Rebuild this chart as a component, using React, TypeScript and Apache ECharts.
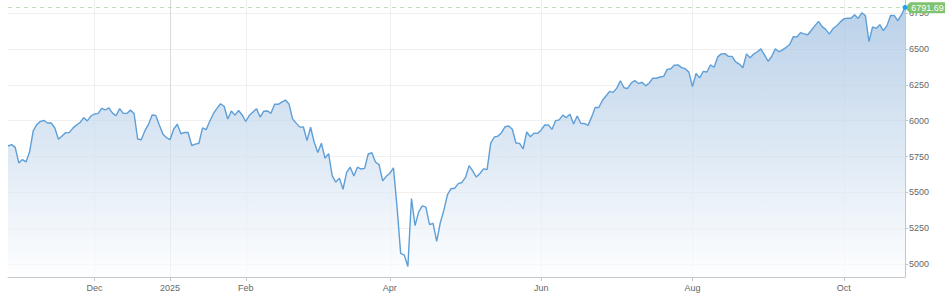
import { useEffect, useRef } from "react";
import * as echarts from "echarts";

// Trading days per month (category axis, one point per session)
const monthDays: [string, number[]][] = [
  ["2024-10", [28, 29, 30, 31]],
  ["2024-11", [1, 4, 5, 6, 7, 8, 11, 12, 13, 14, 15, 18, 19, 20, 21, 22, 25, 26, 27, 29]],
  ["2024-12", [2, 3, 4, 5, 6, 9, 10, 11, 12, 13, 16, 17, 18, 19, 20, 23, 24, 26, 27, 30, 31]],
  ["2025-01", [2, 3, 6, 7, 8, 9, 10, 13, 14, 15, 16, 17, 21, 22, 23, 24, 27, 28, 29, 30, 31]],
  ["2025-02", [3, 4, 5, 6, 7, 10, 11, 12, 13, 14, 18, 19, 20, 21, 24, 25, 26, 27, 28]],
  ["2025-03", [3, 4, 5, 6, 7, 10, 11, 12, 13, 14, 17, 18, 19, 20, 21, 24, 25, 26, 27, 28, 31]],
  ["2025-04", [1, 2, 3, 4, 7, 8, 9, 10, 11, 14, 15, 16, 17, 21, 22, 23, 24, 25, 28, 29, 30]],
  ["2025-05", [1, 2, 5, 6, 7, 8, 9, 12, 13, 14, 15, 16, 19, 20, 21, 22, 23, 27, 28, 29, 30]],
  ["2025-06", [2, 3, 4, 5, 6, 9, 10, 11, 12, 13, 16, 17, 18, 20, 23, 24, 25, 26, 27, 30]],
  ["2025-07", [1, 2, 3, 7, 8, 9, 10, 11, 14, 15, 16, 17, 18, 21, 22, 23, 24, 25, 28, 29, 30, 31]],
  ["2025-08", [1, 4, 5, 6, 7, 8, 11, 12, 13, 14, 15, 18, 19, 20, 21, 22, 25, 26, 27, 28, 29]],
  ["2025-09", [2, 3, 4, 5, 8, 9, 10, 11, 12, 15, 16, 17, 18, 19, 22, 23, 24, 25, 26, 29, 30]],
  ["2025-10", [1, 2, 3, 6, 7, 8, 9, 10, 13, 14, 15, 16, 17, 20, 21, 22, 23, 24]],
];

const tradingDates: string[] = monthDays.flatMap(([m, ds]) =>
  ds.map((d) => `${m}-${String(d).padStart(2, "0")}`)
);

const closes: number[] = [
  // Oct 2024
  5823.52, 5832.92, 5813.67, 5705.45,
  // Nov
  5728.8, 5712.69, 5782.76, 5929.04, 5973.1, 5995.54, 6001.35, 5983.99, 5985.38, 5949.17,
  5870.62, 5893.62, 5916.98, 5917.11, 5948.71, 5969.34, 5987.37, 6021.63, 5998.74, 6032.38,
  // Dec
  6047.15, 6049.88, 6086.49, 6075.11, 6090.27, 6052.85, 6034.91, 6084.19, 6051.25, 6051.09,
  6074.08, 6050.61, 5872.16, 5867.08, 5930.85, 5974.07, 6040.04, 6037.59, 5970.84, 5906.94, 5881.63,
  // Jan 2025
  5868.55, 5942.47, 5975.38, 5909.03, 5918.25, 5918.25, 5827.04, 5836.22, 5842.91, 5949.91,
  5937.34, 5996.66, 6049.24, 6086.37, 6118.71, 6101.24, 6012.28, 6067.7, 6039.31, 6071.17, 6040.53,
  // Feb
  5994.57, 6037.88, 6061.48, 6083.57, 6025.99, 6066.44, 6068.5, 6051.97, 6115.07, 6114.63,
  6129.58, 6144.15, 6117.52, 6013.13, 5983.25, 5955.25, 5956.06, 5861.57, 5954.5,
  // Mar
  5849.72, 5778.15, 5842.63, 5738.52, 5770.2, 5614.56, 5572.07, 5599.3, 5521.52, 5638.94,
  5675.12, 5614.66, 5675.29, 5662.89, 5667.56, 5767.57, 5776.65, 5712.2, 5693.31, 5580.94, 5611.85,
  // Apr
  5633.07, 5670.97, 5396.52, 5074.08, 5062.25, 4982.77, 5456.9, 5268.05, 5363.36, 5405.97,
  5396.63, 5275.7, 5282.7, 5158.2, 5287.76, 5375.86, 5484.77, 5525.21, 5528.75, 5560.83, 5569.06,
  // May
  5604.14, 5686.67, 5650.38, 5606.91, 5631.28, 5663.94, 5659.91, 5844.19, 5886.55, 5892.58,
  5916.93, 5958.38, 5963.6, 5940.46, 5844.61, 5842.01, 5802.82, 5921.54, 5888.55, 5912.17, 5911.69,
  // Jun
  5935.94, 5970.37, 5970.81, 5939.3, 6000.36, 6005.88, 6038.81, 6022.24, 6045.26, 5976.97,
  6033.11, 5982.72, 5980.87, 5967.84, 6025.17, 6092.18, 6092.16, 6141.02, 6173.07, 6204.95,
  // Jul
  6198.01, 6227.42, 6279.35, 6229.98, 6225.52, 6263.26, 6280.46, 6259.75, 6268.56, 6243.76,
  6263.7, 6297.36, 6296.79, 6305.6, 6309.62, 6358.91, 6363.35, 6388.64, 6389.77, 6370.86, 6362.9, 6339.39,
  // Aug
  6238.01, 6329.94, 6299.19, 6345.06, 6340.0, 6389.45, 6373.45, 6445.76, 6466.58, 6468.54,
  6449.8, 6449.15, 6411.37, 6395.78, 6370.17, 6466.91, 6439.32, 6465.94, 6481.4, 6501.86, 6460.26,
  // Sep
  6415.54, 6448.26, 6502.08, 6481.5, 6495.15, 6512.61, 6532.04, 6587.47, 6584.29, 6615.28,
  6606.76, 6600.35, 6631.96, 6664.36, 6693.75, 6656.92, 6637.97, 6604.72, 6643.7, 6661.21, 6688.46,
  // Oct
  6711.2, 6715.35, 6715.79, 6740.28, 6714.59, 6753.72, 6735.11, 6552.51, 6654.72, 6644.31,
  6671.06, 6629.07, 6664.01, 6735.13, 6735.35, 6699.4, 6738.44, 6791.69,
];

const xTickMonths = ["2024-12", "2025-01", "2025-02", "2025-04", "2025-06", "2025-08", "2025-10"];
const xTickLabels = ["Dec", "2025", "Feb", "Apr", "Jun", "Aug", "Oct"];
const yTicks = [5000, 5250, 5500, 5750, 6000, 6250, 6500, 6750];
const yMin = 4909;
const yMax = 6843;

const FONT = "'Liberation Sans', Arial, Helvetica, sans-serif";

function isMonthTick(i: number): boolean {
  if (i <= 0) return false;
  const m = tradingDates[i].slice(0, 7);
  return m !== tradingDates[i - 1].slice(0, 7) && xTickMonths.includes(m);
}

export default function App() {
  const ref = useRef<HTMLDivElement>(null);

  useEffect(() => {
    if (!ref.current) return;
    const chart = echarts.init(ref.current, undefined, { renderer: "svg" });
    const lastIdx = closes.length - 1;
    const lastDate = tradingDates[lastIdx];
    const lastVal = closes[lastIdx];

    chart.setOption({
      animation: false,
      textStyle: { fontFamily: FONT },
      grid: { left: 8, right: 40, top: 0, bottom: 19, containLabel: false },
      xAxis: {
        type: "category",
        data: tradingDates,
        boundaryGap: false,
        axisLine: { show: true, lineStyle: { color: "#c6c6c6", width: 1 } },
        axisTick: {
          show: true,
          interval: (i: number) => isMonthTick(i),
          length: 4,
          lineStyle: { color: "#c6c6c6" },
        },
        axisLabel: {
          interval: (i: number) => isMonthTick(i),
          formatter: (v: string) => {
            const k = xTickMonths.indexOf(v.slice(0, 7));
            return k >= 0 ? xTickLabels[k] : "";
          },
          fontSize: 9,
          color: "#666",
          margin: 6,
          fontFamily: FONT,
        },
        splitLine: {
          show: true,
          interval: (i: number) => isMonthTick(i),
          lineStyle: {
            color: xTickMonths.map((m) => (m === "2025-01" ? "#dadada" : "#efefef")),
            width: 1,
          },
        },
      },
      yAxis: {
        type: "value",
        position: "right",
        min: yMin,
        max: yMax,
        axisLine: { show: true, lineStyle: { color: "#c6c6c6", width: 1 } },
        axisTick: {
          show: true,
          length: 3,
          customValues: yTicks,
          lineStyle: { color: "#c6c6c6" },
        },
        axisLabel: {
          customValues: yTicks,
          formatter: (v: number) => String(v),
          fontSize: 9,
          color: "#666",
          margin: 4,
          fontFamily: FONT,
        },
        splitLine: { show: true, lineStyle: { color: "#f0f0f0", width: 1 } },
      },
      series: [
        {
          type: "line",
          data: closes,
          showSymbol: false,
          symbol: "none",
          lineStyle: { color: "#5e9fd7", width: 1.4 },
          areaStyle: {
            color: new echarts.graphic.LinearGradient(0, 0, 0, 1, [
              { offset: 0, color: "#9dbddf" },
              { offset: 1, color: "#fdfeff" },
            ]),
          },
          markLine: {
            silent: true,
            symbol: ["none", "none"],
            label: { show: false },
            lineStyle: { type: [4, 4], color: "#bfe0b1", width: 1 },
            data: [{ yAxis: lastVal }],
          },
          markPoint: {
            silent: true,
            data: [
              {
                coord: [lastDate, lastVal],
                symbol: "path://M0,6L5,0L39,0Q41,0 41,2L41,10Q41,12 39,12L5,12Z",
                symbolSize: [41, 11],
                symbolOffset: [20.5, 0.5],
                itemStyle: { color: "#7ec36f" },
                label: {
                  show: true,
                  position: "inside",
                  offset: [2, 0],
                  formatter: lastVal.toFixed(2),
                  color: "#ffffff",
                  fontSize: 9,
                  fontFamily: FONT,
                },
              },
              {
                coord: [lastDate, lastVal],
                symbol: "circle",
                symbolSize: 5,
                itemStyle: { color: "#22a3ee" },
                label: { show: false },
              },
            ],
          },
        },
      ],
    });

    return () => chart.dispose();
  }, []);

  return (
    <div
      ref={ref}
      style={{ position: "fixed", left: 0, top: 0, width: 945, height: 296, background: "#fff" }}
    />
  );
}
